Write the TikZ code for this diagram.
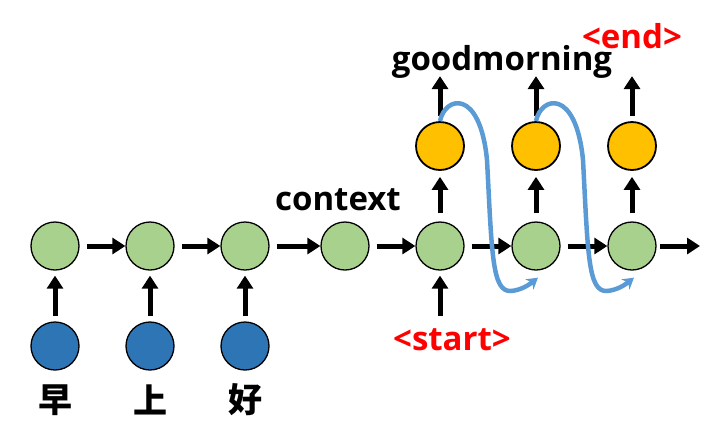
\documentclass[tikz,border=0pt]{standalone}
\usepackage{fontspec}
\setmainfont{Open Sans}
\newfontfamily\cjk{Noto Sans CJK SC}
\usetikzlibrary{arrows.meta}
\definecolor{cgreen}{RGB}{169,209,142}
\definecolor{cblue}{RGB}{46,117,182}
\definecolor{cyellow}{RGB}{255,192,0}
\definecolor{ccurve}{RGB}{91,155,213}
\begin{document}
\begin{tikzpicture}[x=1pt,y=-1pt,
  cell/.style={circle,draw=black,line width=1.3pt,minimum size=48pt,inner sep=0pt},
  gcell/.style={cell,fill=cgreen},
  bcell/.style={cell,fill=cblue},
  ycell/.style={cell,fill=cyellow,line width=1.8pt},
  arr/.style={line width=5pt,-{Triangle[width=16pt,length=13pt]}},
  curve/.style={ccurve,line width=4.5pt,-{Stealth[width=13pt,length=11pt]}},
  lbl/.style={font=\bfseries\fontsize{33}{36}\selectfont,inner sep=0pt},
  rlbl/.style={lbl,text=red},
  clbl/.style={font=\cjk\bfseries\fontsize{34}{36}\selectfont,inner sep=0pt}]
\useasboundingbox (0,0) rectangle (720,432);
% encoder
\node[gcell] (g1) at (55,246) {};
\node[gcell] (g2) at (150,246) {};
\node[gcell] (g3) at (245,246) {};
\node[gcell] (g4) at (345,246) {};
\node[gcell] (g5) at (440,246) {};
\node[gcell] (g6) at (536,246) {};
\node[gcell] (g7) at (632,246) {};
\coordinate (gend) at (700,246);
\node[bcell] (b1) at (55,346) {};
\node[bcell] (b2) at (150,346) {};
\node[bcell] (b3) at (245,346) {};
\node[clbl] (c1) at (55,400) {早};
\node[clbl] (c2) at (150,400) {上};
\node[clbl] (c3) at (245,400) {好};
\node[ycell] (y1) at (440,146) {};
\node[ycell] (y2) at (536,146) {};
\node[ycell] (y3) at (632,146) {};
\node[lbl] (ctx) at (338,200) {context};
\node[lbl] (gm) at (502,62) {goodmorning};
\node[rlbl] (endl) at (632,36) {<end>};
\node[rlbl] (startl) at (452,340) {<start>};
\coordinate (su) at (440,316);
% horizontal arrows
\foreach \a/\b in {g1/g2,g2/g3,g3/g4,g4/g5,g5/g6,g6/g7}
  \draw[arr] ([xshift=7pt]\a.east) -- (\b.west);
\draw[arr] ([xshift=3pt]g7.east) -- (gend);
% vertical arrows
\foreach \a/\b in {b1/g1,b2/g2,b3/g3}
  \draw[arr] ([yshift=5pt]\a.north) -- ([yshift=-5pt]\b.south);
\draw[arr] (su) -- ([yshift=-5pt]g5.south);
\foreach \a/\b in {g5/y1,g6/y2,g7/y3}
  \draw[arr] ([yshift=8pt]\a.north) -- ([yshift=-6pt]\b.south);
\foreach \a in {y1,y2,y3}
  \draw[arr] ([yshift=5pt]\a.north) -- ([yshift=45pt]\a.north);
% feedback curves
\draw[curve] (y1.north) .. controls (445,96) and (480,88) .. (487,160)
  .. controls (492,255) and (492,292) .. (511,291)
  .. controls (522,290) and (530,284) .. ([shift={(2pt,-7pt)}]g6.south);
\draw[curve] (y2.north) .. controls (541,96) and (576,88) .. (583,160)
  .. controls (588,255) and (588,292) .. (607,291)
  .. controls (618,290) and (626,284) .. ([shift={(2pt,-7pt)}]g7.south);
\end{tikzpicture}
\end{document}
